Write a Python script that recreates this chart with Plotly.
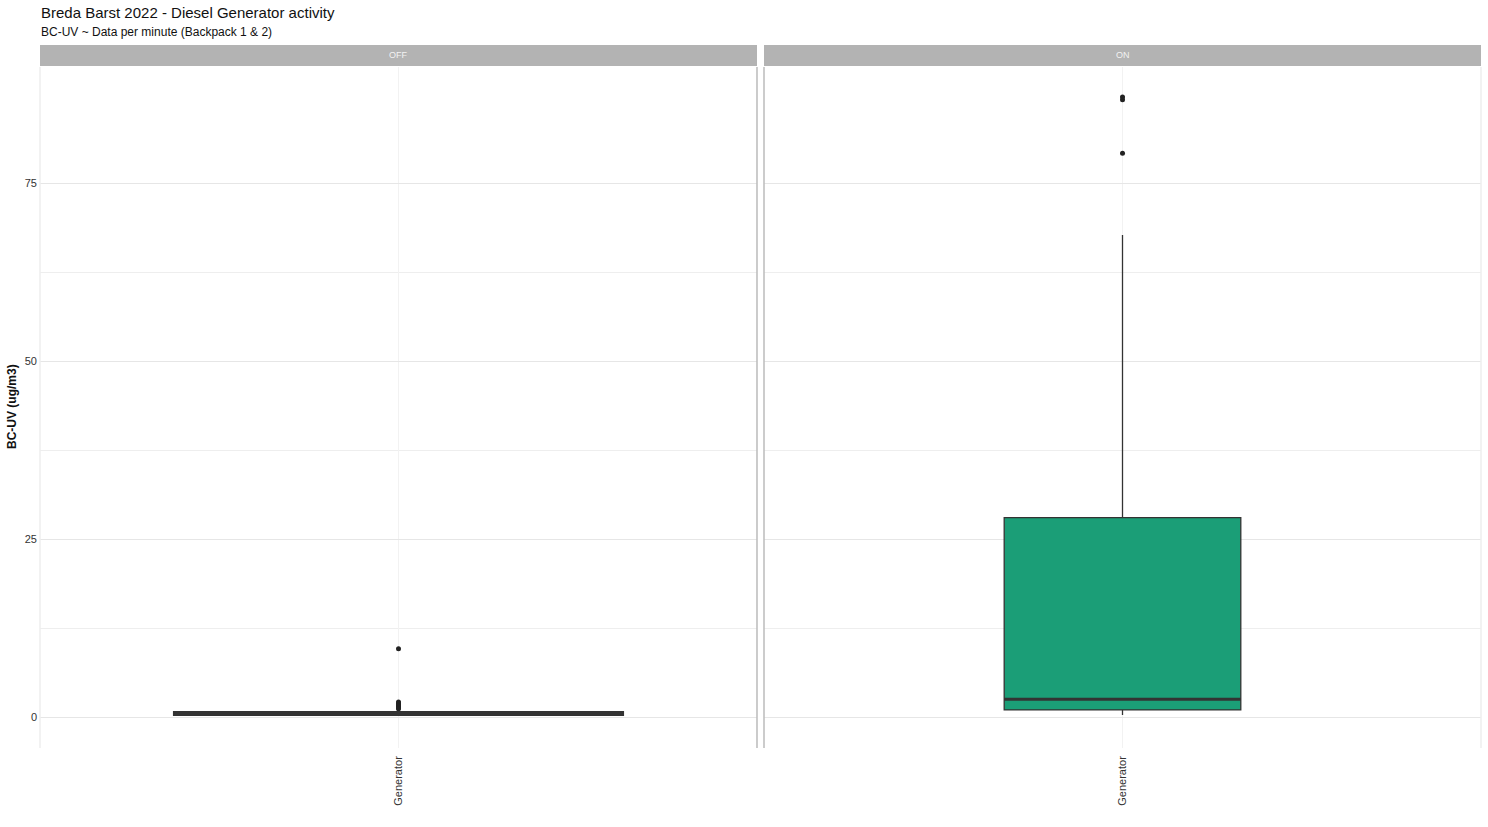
import plotly.graph_objects as go
from plotly.subplots import make_subplots

# ---- data ----
panels = ["OFF", "ON"]
category = ["Generator"]
q1 = [0.35, 1.0]
median = [0.5, 2.5]
q3 = [0.65, 28.0]
lower_fence = [0.2, 0.3]
upper_fence = [1.0, 67.7]
box_widths = [0.75, 0.396]
box_fill = ["#D95F02", "#1B9E77"]
outliers_off = [9.6, 2.1, 1.9, 1.7, 1.5, 1.3, 1.15]
outliers_on = [87.1, 86.7, 79.2]
outliers = [outliers_off, outliers_on]
y_ticks = [0, 25, 50, 75]
y_range = [-4.35, 91.3]

title = "Breda Barst 2022 - Diesel Generator activity"
subtitle = "BC-UV ~ Data per minute (Backpack 1 & 2)"
y_title = "BC-UV (ug/m3)"

FONT = "Liberation Sans, Arial, sans-serif"

W, H = 1488, 827
ML, MR, MT, MB = 40, 7, 67, 79
PH = H - MT - MB
PW = W - ML - MR


def py(p):  # pixel y -> paper y
    return (H - MB - p) / PH


def px(p):  # pixel x -> paper x
    return (p - ML) / PW


fig = make_subplots(rows=1, cols=2, shared_yaxes=True, horizontal_spacing=0.00486)

for i in range(2):
    col = i + 1
    fig.add_trace(go.Box(
        x=category, q1=[q1[i]], median=[median[i]], q3=[q3[i]],
        lowerfence=[lower_fence[i]], upperfence=[upper_fence[i]],
        width=box_widths[i], fillcolor=box_fill[i], whiskerwidth=0,
        line=dict(color="#333333", width=1.3 if i == 1 else 3),
        boxpoints=False, showlegend=False, hoverinfo="skip"),
        row=1, col=col)
    fig.add_trace(go.Scatter(
        x=category * len(outliers[i]), y=outliers[i], mode="markers",
        marker=dict(color="#222222", size=5, symbol="circle"),
        showlegend=False, hoverinfo="skip"), row=1, col=col)
    # thicker median (ggplot fatten)
    xref = "x" if col == 1 else "x2"
    fig.add_shape(type="line", xref=xref, yref="y",
                  x0=-box_widths[i] / 2, x1=box_widths[i] / 2,
                  y0=median[i], y1=median[i],
                  line=dict(color="#333333", width=3 if i == 1 else 4))

for col in (1, 2):
    fig.update_xaxes(type="category", range=[-0.6, 0.6], showgrid=True,
                     gridcolor="#f2f2f2", gridwidth=1, zeroline=False,
                     tickangle=-90, ticks="", showline=False, automargin=False,
                     ticklabelstandoff=5,
                     tickfont=dict(family=FONT, size=11, color="#333333"),
                     row=1, col=col)
    fig.update_yaxes(range=y_range, tickvals=y_ticks, showgrid=True,
                     gridcolor="#e6e6e6", gridwidth=1, zeroline=False,
                     minor=dict(tickvals=[12.5, 37.5, 62.5], showgrid=True,
                                gridcolor="#eeeeee", gridwidth=1),
                     ticks="", showline=False, automargin=False,
                     ticklabelstandoff=2, color="#333333",
                     tickfont=dict(family=FONT, size=11, color="#333333"),
                     row=1, col=col)

# y-axis title
fig.add_annotation(xref="paper", yref="paper", x=px(12), y=py(407),
                   text="<b>" + y_title + "</b>", textangle=-90, showarrow=False,
                   font=dict(family=FONT, size=12, color="#111111"),
                   xanchor="center", yanchor="middle")

# titles
fig.add_annotation(xref="paper", yref="paper", x=px(39), y=py(12),
                   text=title, showarrow=False, xanchor="left", yanchor="middle",
                   font=dict(family=FONT, size=15, color="#111111"))
fig.add_annotation(xref="paper", yref="paper", x=px(39), y=py(32),
                   text=subtitle, showarrow=False, xanchor="left", yanchor="middle",
                   font=dict(family=FONT, size=12, color="#111111"))

# panel strips and borders
for i, dom in enumerate([fig.layout.xaxis.domain, fig.layout.xaxis2.domain]):
    fig.add_shape(type="rect", xref="paper", yref="paper",
                  x0=dom[0], x1=dom[1], y0=py(66), y1=py(45),
                  fillcolor="#b3b3b3", line=dict(width=0), layer="below")
    fig.add_annotation(xref="paper", yref="paper", x=(dom[0] + dom[1]) / 2,
                       y=py(55.5), text=panels[i], showarrow=False,
                       font=dict(family=FONT, size=9, color="#f2f2f2"),
                       xanchor="center", yanchor="middle")
d1 = fig.layout.xaxis.domain
d2 = fig.layout.xaxis2.domain
for xv, colr in [(d1[0], "#eeeeee"), (d1[1], "#bbbbbb"), (d2[0], "#bbbbbb"), (d2[1], "#eeeeee")]:
    fig.add_shape(type="line", xref="paper", yref="paper", x0=xv, x1=xv,
                  y0=0, y1=1, line=dict(color=colr, width=1.5))

fig.update_layout(
    width=W, height=H,
    margin=dict(l=ML, r=MR, t=MT, b=MB),
    plot_bgcolor="white", paper_bgcolor="white",
    font=dict(family=FONT, color="#333333"),
)

fig.write_html("out.html", config={"displayModeBar": False},
               post_script="document.body.style.margin='0';document.body.style.overflow='hidden';")
